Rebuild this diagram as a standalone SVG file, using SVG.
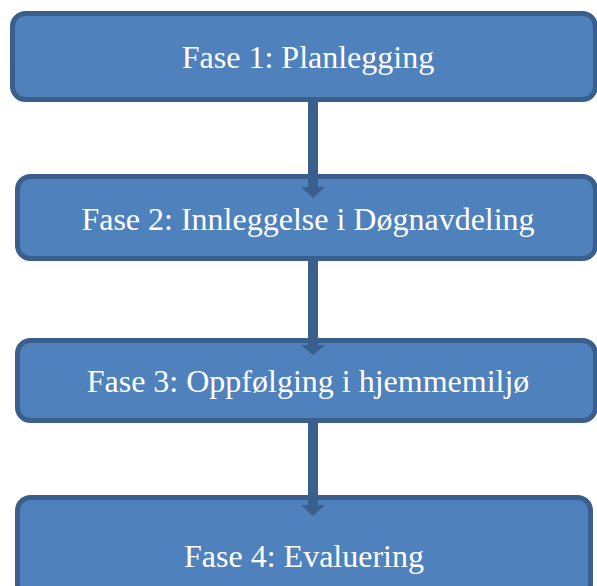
<svg xmlns="http://www.w3.org/2000/svg" width="597" height="586" viewBox="0 0 597 586">
<defs>
<style>
.box{fill:#4f81bd;stroke:#3b5f8c;stroke-width:5}
.lbl{font-family:"Liberation Serif","Times New Roman",serif;font-size:32px;fill:#ffffff;text-anchor:middle}
.shaft{fill:#3b5f8c}
</style>
</defs>
<rect width="597" height="586" fill="#ffffff"/>
<g id="fase1">
<rect class="box" x="12.5" y="13.5" width="583" height="86" rx="13"/>
<text class="lbl" x="308" y="68">Fase 1: Planlegging</text>
</g>
<g id="fase2">
<rect class="box" x="17.5" y="176.5" width="578" height="82" rx="13"/>
<text class="lbl" x="308" y="230">Fase 2: Innleggelse i Døgnavdeling</text>
</g>
<g id="fase3">
<rect class="box" x="17.5" y="340.5" width="578" height="80" rx="13"/>
<text class="lbl" x="308" y="392">Fase 3: Oppfølging i hjemmemiljø</text>
</g>
<g id="fase4">
<rect class="box" x="17.5" y="497.5" width="573" height="100" rx="13"/>
<text class="lbl" x="304" y="567">Fase 4: Evaluering</text>
</g>
<g id="connectors">
<path class="shaft" d="M308,99 H318 V187 H325 L313,198 L301,187 H308 Z"/>
<path class="shaft" d="M308,258 H318 V345 H325 L313,355 L301,345 H308 Z"/>
<path class="shaft" d="M308,420 H318 V505 H325 L313,516 L301,505 H308 Z"/>
</g>
</svg>
